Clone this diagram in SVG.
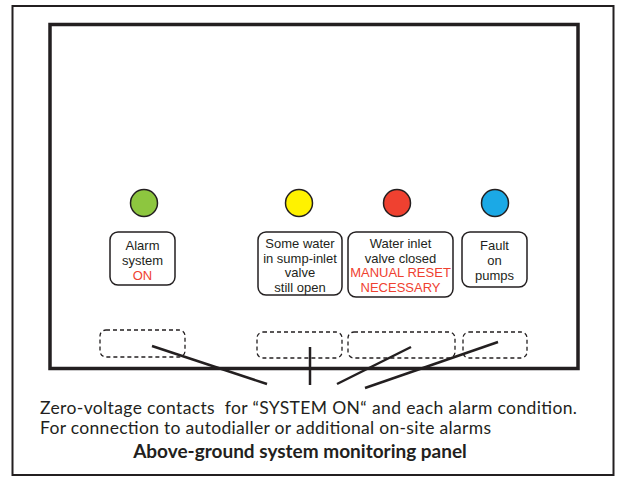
<svg xmlns="http://www.w3.org/2000/svg" width="617" height="477" viewBox="0 0 617 477">
<style>
.frame{fill:none;stroke:#231f20}
.lbl{fill:none;stroke:#231f20;stroke-width:1.5}
.dash{fill:none;stroke:#231f20;stroke-width:1.3;stroke-dasharray:4 3}
.t{font-family:"Liberation Sans",Arial,sans-serif;font-size:13px;fill:#231f20;text-anchor:middle}
.r{fill:#ef4130}
.cap{font-family:Lato,"Open Sans",sans-serif;font-size:17.5px;fill:#231f20;white-space:pre}
.title{font-family:Lato,"Open Sans",sans-serif;font-size:19px;font-weight:bold;fill:#231f20;text-anchor:middle}
.con{stroke:#231f20;stroke-width:2.5;fill:none}
</style>
<rect width="617" height="477" fill="#fff"/>
<rect class="frame" x="12.5" y="6" width="601" height="469" stroke-width="2"/>
<rect class="frame" x="50" y="24.5" width="528" height="344" stroke-width="3.5"/>

<g id="alarm-on">
<circle cx="144" cy="203" r="13.5" fill="#8dc63f" stroke="#231f20" stroke-width="1.5"/>
<rect class="lbl" x="110" y="232" width="65" height="53" rx="8"/>
<text class="t" x="142.5" y="250">Alarm</text>
<text class="t" x="142.5" y="265">system</text>
<text class="t r" x="142.5" y="280">ON</text>
<rect class="dash" x="100" y="330" width="85" height="27" rx="6"/>
</g>

<g id="some-water">
<circle cx="299" cy="203" r="13.5" fill="#fff200" stroke="#231f20" stroke-width="1.5"/>
<rect class="lbl" x="258" y="232" width="84" height="63" rx="8"/>
<text class="t" x="300" y="248">Some water</text>
<text class="t" x="300" y="262.5">in sump-inlet</text>
<text class="t" x="300" y="277">valve</text>
<text class="t" x="300" y="291.5">still open</text>
<rect class="dash" x="257" y="332" width="85" height="26" rx="6"/>
</g>

<g id="inlet-closed">
<circle cx="397" cy="203" r="13.5" fill="#ef4130" stroke="#231f20" stroke-width="1.5"/>
<rect class="lbl" x="348" y="232" width="105" height="65" rx="8"/>
<text class="t" x="400.5" y="248">Water inlet</text>
<text class="t" x="400.5" y="262.5">valve closed</text>
<text class="t r" x="400.5" y="277">MANUAL RESET</text>
<text class="t r" x="400.5" y="291.5">NECESSARY</text>
<rect class="dash" x="348" y="332" width="107" height="26" rx="6"/>
</g>

<g id="pump-fault">
<circle cx="495" cy="203" r="13.5" fill="#1ba9e6" stroke="#231f20" stroke-width="1.5"/>
<rect class="lbl" x="462" y="232" width="65" height="55" rx="8"/>
<text class="t" x="494.5" y="250">Fault</text>
<text class="t" x="494.5" y="265">on</text>
<text class="t" x="494.5" y="280">pumps</text>
<rect class="dash" x="463" y="332" width="64" height="26" rx="6"/>
</g>

<g id="connectors">
<line class="con" x1="152" y1="346" x2="267" y2="384"/>
<line class="con" x1="310" y1="347" x2="310" y2="385"/>
<line class="con" x1="411" y1="347" x2="337" y2="384"/>
<line class="con" x1="498" y1="342" x2="365" y2="388"/>
</g>

<g id="caption">
<text class="cap" x="40" y="414" textLength="537">Zero-voltage contacts  for “SYSTEM ON“ and each alarm condition.</text>
<text class="cap" x="40" y="434" textLength="451">For connection to autodialler or additional on-site alarms</text>
<text class="title" x="300" y="458">Above-ground system monitoring panel</text>
</g>
</svg>
